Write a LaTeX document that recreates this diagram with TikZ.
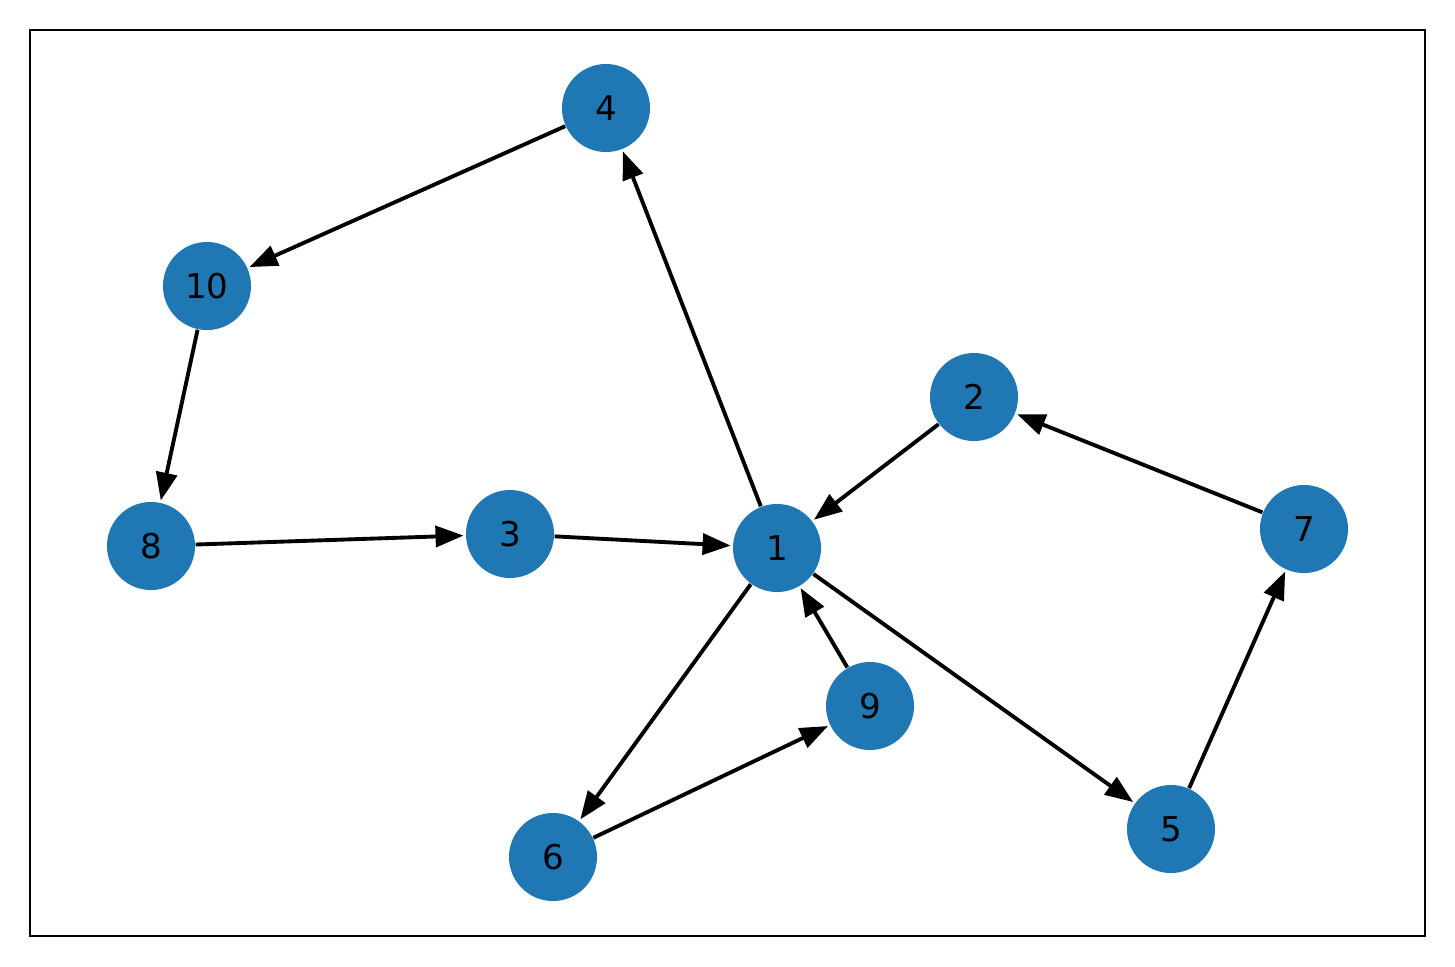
\documentclass[tikz,border=0pt]{standalone}
\usepackage{fontspec}
\setmainfont{DejaVu Sans}
\usetikzlibrary{arrows.meta}
\definecolor{nodeblue}{HTML}{1F77B4}
\begin{document}
\begin{tikzpicture}[x=0.01cm,y=-0.01cm,
  vertex/.style={circle,fill=nodeblue,draw=none,minimum size=0.88cm,inner sep=0pt,
    font=\fontsize{9.7pt}{11pt}\selectfont,text=black},
  edge/.style={line width=1.1pt,-{Triangle[length=2.8mm,width=2.1mm]},shorten >=0.5pt}]
\useasboundingbox (0,0) rectangle (1455,966);
\draw[line width=0.8pt] (30,30) rectangle (1425,936);
% vertices
\node[vertex] (n1) at (777,548) {1};
\node[vertex] (n2) at (974,397) {2};
\node[vertex] (n3) at (510,534) {3};
\node[vertex] (n4) at (606,108) {4};
\node[vertex] (n5) at (1171,829) {5};
\node[vertex] (n6) at (553,857) {6};
\node[vertex] (n7) at (1304,529) {7};
\node[vertex] (n8) at (151,546) {8};
\node[vertex] (n9) at (870,706) {9};
\node[vertex] (n10) at (207,286) {10};
% directed edges
\draw[edge] (n4) -- (n10);
\draw[edge] (n10) -- (n8);
\draw[edge] (n8) -- (n3);
\draw[edge] (n3) -- (n1);
\draw[edge] (n1) -- (n4);
\draw[edge] (n2) -- (n1);
\draw[edge] (n7) -- (n2);
\draw[edge] (n1) -- (n6);
\draw[edge] (n6) -- (n9);
\draw[edge] (n9) -- (n1);
\draw[edge] (n1) -- (n5);
\draw[edge] (n5) -- (n7);
\end{tikzpicture}
\end{document}
